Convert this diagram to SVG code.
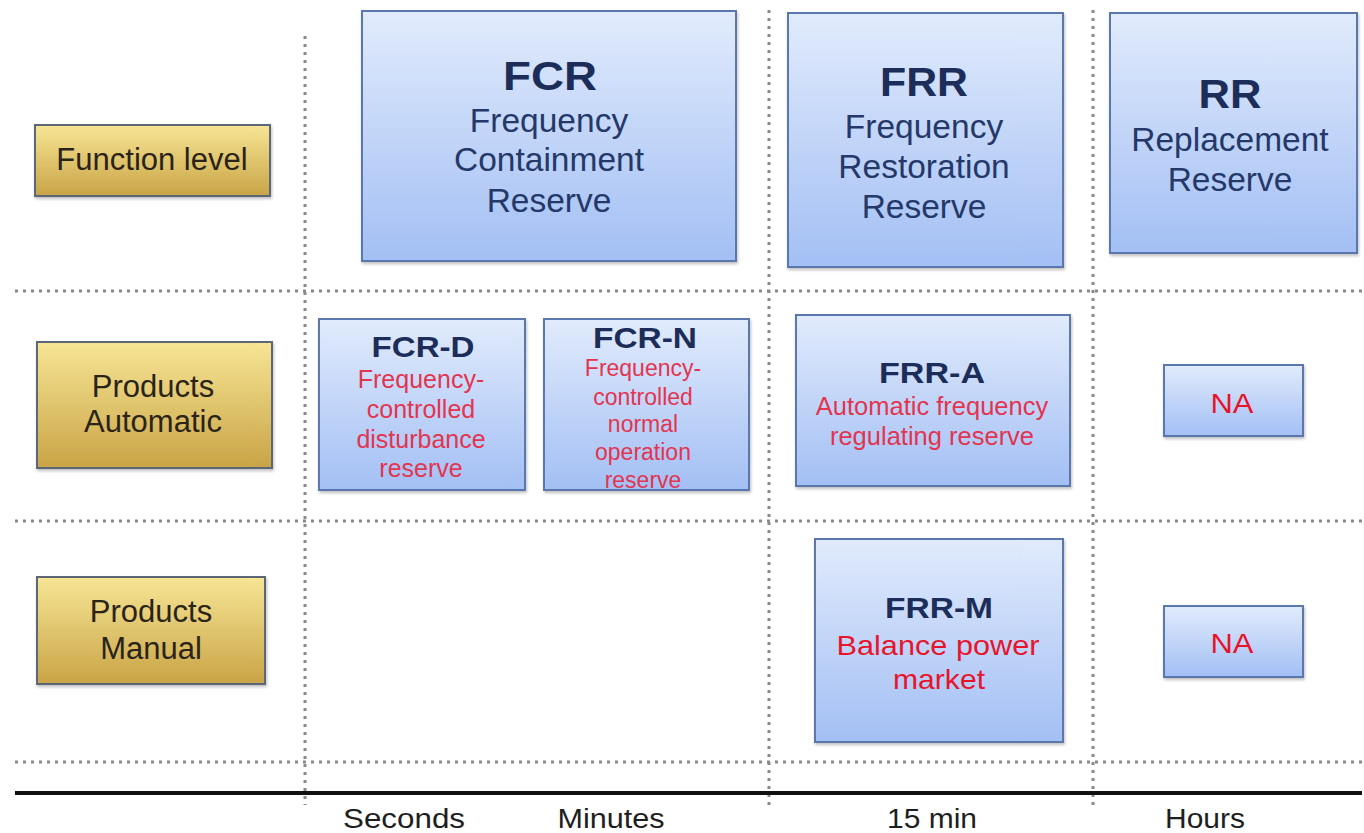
<svg xmlns="http://www.w3.org/2000/svg" width="1364" height="833" viewBox="0 0 1364 833">
<defs>
<linearGradient id="gold" x1="0" y1="0" x2="0" y2="1">
<stop offset="0" stop-color="#f7e595"/>
<stop offset="1" stop-color="#c9a446"/>
</linearGradient>
<linearGradient id="blue" x1="0" y1="0" x2="0" y2="1">
<stop offset="0" stop-color="#e1ebfc"/>
<stop offset="1" stop-color="#a3bff4"/>
</linearGradient>
<filter id="sh" x="-10%" y="-10%" width="120%" height="130%">
<feDropShadow dx="1" dy="2" stdDeviation="1.5" flood-color="#000" flood-opacity="0.25"/>
</filter>
</defs>
<style>
.gold{fill:url(#gold);stroke:#5b6878;stroke-width:2;filter:url(#sh)}
.blue{fill:url(#blue);stroke:#5a78ae;stroke-width:2;filter:url(#sh)}
.grid{stroke:#8a8a8a;stroke-width:3;stroke-dasharray:3 5;fill:none}
text{font-family:"Liberation Sans",Arial,sans-serif;text-anchor:middle}
.lbl{font-size:31px;fill:#2a2418}
.title{font-weight:bold;fill:#1c2d5a}
.sub{fill:#24386a;font-size:33.5px}
.red{fill:#e23550}
.red2{fill:#e8142c}
.axis{font-size:27px;fill:#1e1e1e}
</style>
<rect width="1364" height="833" fill="#fff"/>
<g id="connectors">
<line class="grid" x1="15" y1="291" x2="1364" y2="291"/>
<line class="grid" x1="15" y1="521" x2="1364" y2="521"/>
<line class="grid" x1="15" y1="762" x2="1364" y2="762"/>
<line class="grid" x1="305" y1="36" x2="305" y2="805"/>
<line class="grid" x1="769" y1="10" x2="769" y2="805"/>
<line class="grid" x1="1093" y1="10" x2="1093" y2="805"/>
<line x1="15" y1="793" x2="1362" y2="793" stroke="#111" stroke-width="4"/>
</g>
<g id="function-level"><rect class="gold" x="35" y="125" width="235" height="71"/><text class="lbl" x="152" y="170">Function level</text></g>
<g id="products-automatic"><rect class="gold" x="37" y="342" width="235" height="126"/><text class="lbl" x="153" y="397">Products</text><text class="lbl" x="153" y="432">Automatic</text></g>
<g id="products-manual"><rect class="gold" x="37" y="577" width="228" height="107"/><text class="lbl" x="151" y="622">Products</text><text class="lbl" x="151" y="659">Manual</text></g>
<g id="fcr"><rect class="blue" x="362" y="11" width="374" height="250"/>
<text class="title" x="550" y="90" font-size="41" textLength="94" lengthAdjust="spacingAndGlyphs">FCR</text>
<text class="sub" x="549" y="132">Frequency</text>
<text class="sub" x="549" y="171">Containment</text>
<text class="sub" x="549" y="212">Reserve</text></g>
<g id="frr"><rect class="blue" x="788" y="13" width="275" height="254"/>
<text class="title" x="924" y="96" font-size="40" textLength="88" lengthAdjust="spacingAndGlyphs">FRR</text>
<text class="sub" x="924" y="138">Frequency</text>
<text class="sub" x="924" y="178">Restoration</text>
<text class="sub" x="924" y="218">Reserve</text></g>
<g id="rr"><rect class="blue" x="1110" y="13" width="247" height="240"/>
<text class="title" x="1230" y="108" font-size="40" textLength="63" lengthAdjust="spacingAndGlyphs">RR</text>
<text class="sub" x="1230" y="151">Replacement</text>
<text class="sub" x="1230" y="191">Reserve</text></g>
<g id="fcr-d"><rect class="blue" x="319" y="319" width="206" height="171"/>
<text class="title" x="423" y="357" font-size="30" textLength="103" lengthAdjust="spacingAndGlyphs">FCR-D</text>
<text class="red" x="421" y="388" font-size="25">Frequency-</text>
<text class="red" x="421" y="418" font-size="25">controlled</text>
<text class="red" x="421" y="448" font-size="25">disturbance</text>
<text class="red" x="421" y="477" font-size="25">reserve</text></g>
<g id="fcr-n"><rect class="blue" x="544" y="319" width="205" height="171"/>
<text class="title" x="645" y="348" font-size="30" textLength="104" lengthAdjust="spacingAndGlyphs">FCR-N</text>
<text class="red" x="643" y="376" font-size="23">Frequency-</text>
<text class="red" x="643" y="405" font-size="23">controlled</text>
<text class="red" x="643" y="432" font-size="23">normal</text>
<text class="red" x="643" y="460" font-size="23">operation</text>
<text class="red" x="643" y="488" font-size="23">reserve</text></g>
<g id="frr-a"><rect class="blue" x="796" y="315" width="274" height="171"/>
<text class="title" x="932" y="383" font-size="30" textLength="106" lengthAdjust="spacingAndGlyphs">FRR-A</text>
<text class="red" x="932" y="415" font-size="25.5">Automatic frequency</text>
<text class="red" x="932" y="445" font-size="25.5">regulating reserve</text></g>
<g id="na-automatic"><rect class="blue" x="1164" y="365" width="139" height="71"/>
<text class="red2" x="1232" y="413" font-size="28" textLength="43" lengthAdjust="spacingAndGlyphs">NA</text></g>
<g id="frr-m"><rect class="blue" x="815" y="539" width="248" height="203"/>
<text class="title" x="939" y="618" font-size="30" textLength="108" lengthAdjust="spacingAndGlyphs">FRR-M</text>
<text class="red2" x="938" y="655" font-size="28" textLength="203" lengthAdjust="spacingAndGlyphs">Balance power</text>
<text class="red2" x="939" y="689" font-size="28" textLength="92" lengthAdjust="spacingAndGlyphs">market</text></g>
<g id="na-manual"><rect class="blue" x="1164" y="606" width="139" height="71"/>
<text class="red2" x="1232" y="653" font-size="28" textLength="43" lengthAdjust="spacingAndGlyphs">NA</text></g>
<g id="axis-labels">
<text class="axis" x="404" y="828" textLength="122" lengthAdjust="spacingAndGlyphs">Seconds</text>
<text class="axis" x="611" y="828" textLength="107" lengthAdjust="spacingAndGlyphs">Minutes</text>
<text class="axis" x="932" y="828" textLength="90" lengthAdjust="spacingAndGlyphs">15 min</text>
<text class="axis" x="1205" y="828" textLength="80" lengthAdjust="spacingAndGlyphs">Hours</text>
</g>
</svg>
